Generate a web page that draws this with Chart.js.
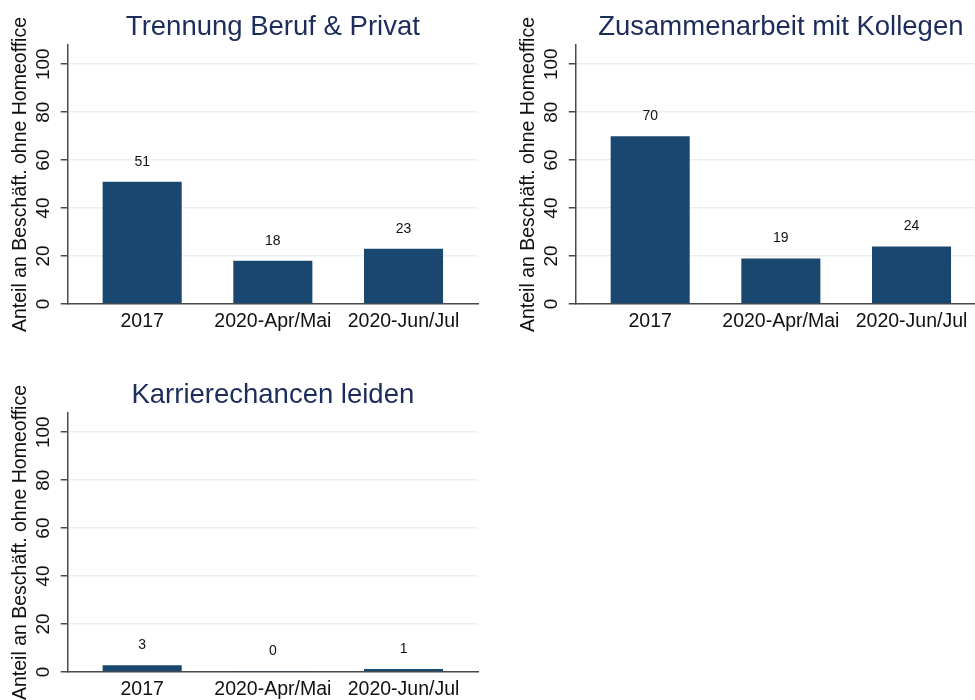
<!DOCTYPE html>
<html lang="de">
<head>
  <meta charset="UTF-8">
  <title>Nachteile Homeoffice</title>
  <style>
    html, body { margin: 0; padding: 0; background: #fff; overflow: hidden; width: 975px; height: 700px; }
    .panel { position: absolute; width: 508px; height: 368px; }
    #p1 { left: 0; top: 0; }
    #p2 { left: 508px; top: 0; }
    #p3 { left: 0; top: 368px; }
  </style>
  <script src="https://cdn.jsdelivr.net/npm/chart.js"></script>
</head>
<body>
  <div class="panel" id="p1"><canvas id="c1" width="508" height="368"></canvas></div>
  <div class="panel" id="p2"><canvas id="c2" width="508" height="368"></canvas></div>
  <div class="panel" id="p3"><canvas id="c3" width="508" height="368"></canvas></div>
  <script>
    // Daten
    const kategorien = ['2017', '2020-Apr/Mai', '2020-Jun/Jul'];
    const titel = ['Trennung Beruf & Privat', 'Zusammenarbeit mit Kollegen', 'Karrierechancen leiden'];
    const trennungWerte = [51, 18, 23];
    const zusammenarbeitWerte = [70, 19, 24];
    const karriereWerte = [2.8, 0.4, 1.2];
    const yTicks = [0, 20, 40, 60, 80, 100];
    const yTitel = 'Anteil an Beschäft. ohne Homeoffice';

    const FONT = "'Liberation Sans', Arial, sans-serif";
    const BALKEN = '#1a476f';

    // Werte über den Balken
    const wertePlugin = {
      id: 'werte',
      afterDatasetsDraw(chart) {
        const ctx = chart.ctx;
        const meta = chart.getDatasetMeta(0);
        const data = chart.data.datasets[0].data;
        ctx.save();
        ctx.font = '14px ' + FONT;
        ctx.fillStyle = '#111';
        ctx.textAlign = 'center';
        ctx.textBaseline = 'middle';
        meta.data.forEach((bar, i) => {
          ctx.fillText(String(Math.round(data[i].y)), bar.x, bar.y - 20);
        });
        ctx.restore();
      }
    };

    // senkrechte Y-Beschriftung (wie Stata)
    const yLabelPlugin = {
      id: 'ylabels',
      afterDraw(chart) {
        const ctx = chart.ctx;
        const y = chart.scales.y;
        ctx.save();
        ctx.font = '19px ' + FONT;
        ctx.fillStyle = '#111';
        ctx.textAlign = 'center';
        ctx.textBaseline = 'middle';
        y.ticks.forEach(t => {
          ctx.save();
          ctx.translate(43.5, y.getPixelForValue(t.value));
          ctx.rotate(-Math.PI / 2);
          ctx.fillText(String(t.value), 0, 0);
          ctx.restore();
        });
        ctx.restore();
      }
    };

    function zeichne(canvasId, titelText, werte) {
      const punkte = werte.map((v, i) => ({x: i, y: v}));
      return new Chart(document.getElementById(canvasId), {
        type: 'bar',
        data: {
          datasets: [{
            data: punkte,
            backgroundColor: BALKEN,
            borderWidth: 0,
            barPercentage: 0.605,
            categoryPercentage: 1
          }]
        },
        options: {
          responsive: false,
          animation: false,
          layout: { padding: { left: 0, right: 30, top: 0, bottom: 0 } },
          plugins: {
            legend: { display: false },
            tooltip: { enabled: false },
            title: {
              display: true,
              text: titelText,
              fullSize: false,
              color: '#1c2c5b',
              font: { family: FONT, size: 27.5, weight: 'normal', lineHeight: 1.2 },
              padding: { top: 11, bottom: 1 }
            }
          },
          scales: {
            x: {
              type: 'linear',
              offset: false,
              min: -0.57,
              max: 2.57,
              afterBuildTicks: s => { s.ticks = kategorien.map((k, i) => ({value: i})); },
              afterFit: s => { s.height = 64; },
              grid: { display: false, drawTicks: false },
              border: { display: true, color: '#4a4a4a', width: 1.5 },
              ticks: {
                callback: v => kategorien[v],
                autoSkip: false,
                maxRotation: 0,
                minRotation: 0,
                padding: 6,
                color: '#111',
                font: { family: FONT, size: 19.5 }
              }
            },
            y: {
              min: 0,
              max: 108,
              afterBuildTicks: s => { s.ticks = yTicks.map(v => ({value: v})); },
              afterFit: s => { s.width = 67.7; },
              grid: {
                color: '#e8f0f2',
                lineWidth: 1.5,
                drawTicks: true,
                tickLength: 7,
                tickColor: '#4a4a4a',
                tickWidth: 1.5
              },
              border: { display: true, color: '#4a4a4a', width: 1.5 },
              ticks: { display: false },
              title: {
                display: true,
                text: yTitel,
                color: '#111',
                font: { family: FONT, size: 19.5 },
                padding: { top: 9, bottom: 0 }
              }
            }
          }
        },
        plugins: [wertePlugin, yLabelPlugin]
      });
    }

    zeichne('c1', titel[0], trennungWerte);
    zeichne('c2', titel[1], zusammenarbeitWerte);
    zeichne('c3', titel[2], karriereWerte);
  </script>
</body>
</html>
